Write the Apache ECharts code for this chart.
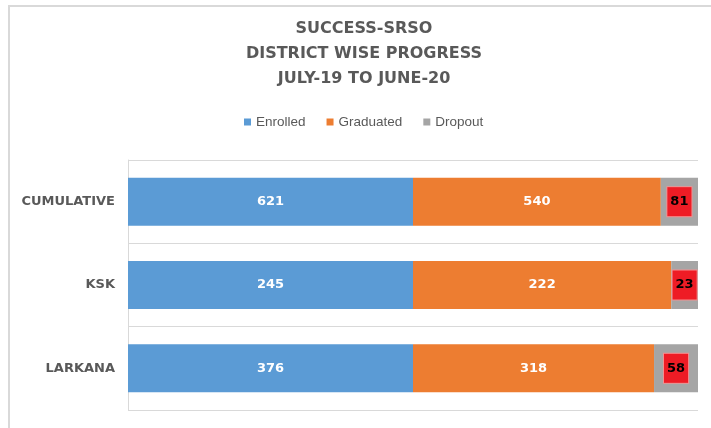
<!DOCTYPE html>
<html>
<head>
<meta charset="utf-8">
<script src="https://cdn.jsdelivr.net/npm/echarts@6/dist/echarts.min.js"></script>
<style>
  html, body { margin: 0; padding: 0; background: #fff; }
  #chart { width: 711px; height: 428px; }
</style>
</head>
<body>
<div id="chart"></div>
<script>
  // data
  var categories = ['CUMULATIVE', 'KSK', 'LARKANA'];
  var enrolled = [621, 245, 376];
  var graduated = [540, 222, 318];
  var dropout = [81, 23, 58];
  var seriesNames = ['Enrolled', 'Graduated', 'Dropout'];

  var grey = '#595959';

  // 100% stacked: each row scaled to its own total
  var totals = categories.map(function (c, i) {
    return enrolled[i] + graduated[i] + dropout[i];
  });
  function share(arr) {
    return arr.map(function (v, i) { return v / totals[i] * 100; });
  }
  function rawLabel(arr) {
    return function (p) { return arr[p.dataIndex]; };
  }

  var chart = echarts.init(document.getElementById('chart'));

  chart.setOption({
    animation: false,
    title: {
      text: 'SUCCESS-SRSO\nDISTRICT WISE PROGRESS\nJULY-19 TO JUNE-20',
      left: 364,
      top: 16,
      padding: 0,
      textAlign: 'center',
      textStyle: {
        fontFamily: 'DejaVu Sans',
        fontWeight: 'bold',
        fontSize: 16,
        lineHeight: 25,
        color: grey
      }
    },
    legend: {
      data: seriesNames,
      left: 244,
      top: 115,
      padding: 0,
      icon: 'rect',
      itemWidth: 7,
      itemHeight: 7,
      itemGap: 21,
      textStyle: { fontFamily: 'Liberation Sans', fontSize: 13.5, color: grey }
    },
    graphic: [{
      type: 'polyline',
      shape: { points: [[9, 428], [9, 6], [711, 6]] },
      style: { stroke: '#d9d9d9', lineWidth: 2, fill: null }
    }],
    grid: { left: 128, right: 13, top: 160, bottom: 18 },
    xAxis: {
      type: 'value',
      min: 0,
      max: 100,
      show: false
    },
    yAxis: {
      type: 'category',
      data: categories,
      inverse: true,
      axisTick: { show: false },
      axisLine: { lineStyle: { color: '#d9d9d9', width: 1 } },
      splitLine: { show: true, lineStyle: { color: '#d9d9d9', width: 1 } },
      axisLabel: {
        margin: 13,
        fontFamily: 'DejaVu Sans',
        fontWeight: 'bold',
        fontSize: 13,
        color: grey
      }
    },
    series: [{
      name: 'Enrolled',
      type: 'bar',
      stack: 'all',
      barWidth: 48,
      data: share(enrolled),
      itemStyle: { color: '#5b9bd5' },
      label: {
        show: true,
        position: 'inside',
        formatter: rawLabel(enrolled),
        color: '#fff',
        fontFamily: 'DejaVu Sans',
        fontWeight: 'bold',
        fontSize: 13
      }
    }, {
      name: 'Graduated',
      type: 'bar',
      stack: 'all',
      data: share(graduated),
      itemStyle: { color: '#ed7d31' },
      label: {
        show: true,
        position: 'inside',
        formatter: rawLabel(graduated),
        color: '#fff',
        fontFamily: 'DejaVu Sans',
        fontWeight: 'bold',
        fontSize: 13
      }
    }, {
      name: 'Dropout',
      type: 'bar',
      stack: 'all',
      data: share(dropout),
      itemStyle: { color: '#a5a5a5' },
      label: {
        show: true,
        position: 'inside',
        formatter: rawLabel(dropout),
        color: '#000',
        fontFamily: 'DejaVu Sans',
        fontWeight: 'bold',
        fontSize: 13,
        backgroundColor: '#ee1c25',
        borderColor: '#f39090',
        borderWidth: 1,
        padding: [8, 3, 8, 3]
      }
    }]
  });
</script>
</body>
</html>
